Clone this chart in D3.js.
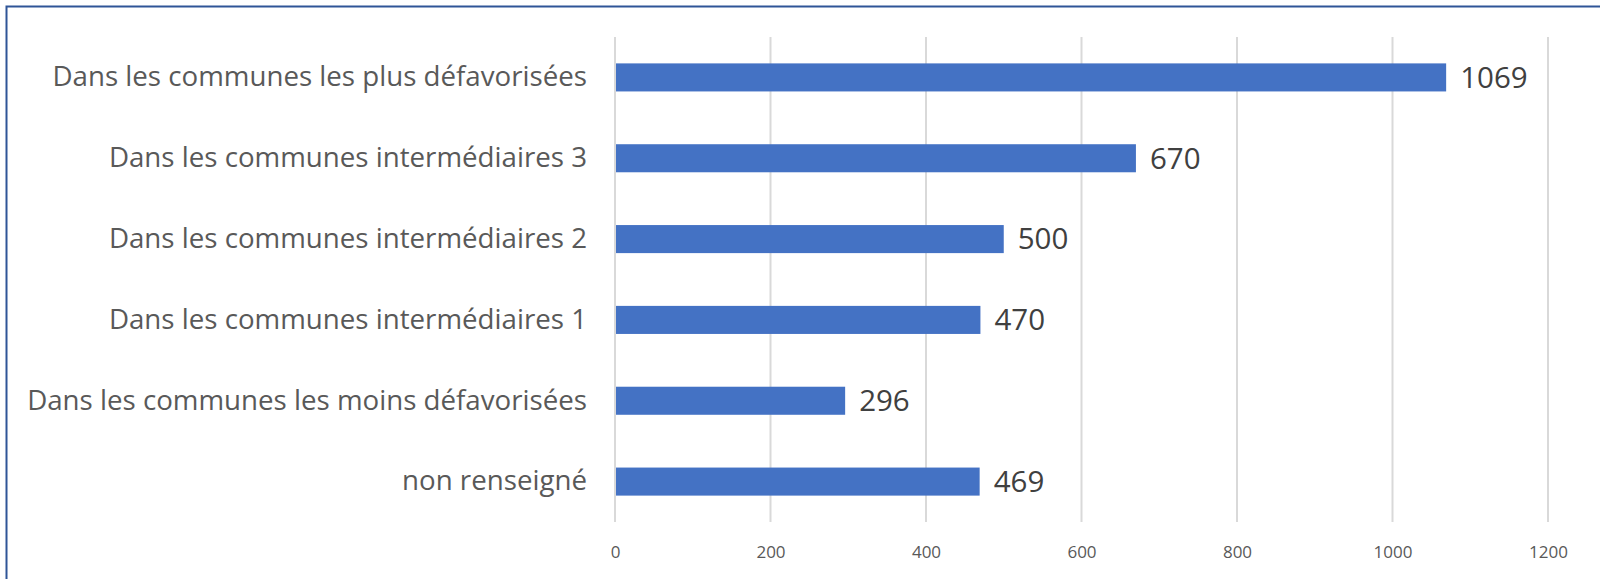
<!DOCTYPE html>
<html><head><meta charset="utf-8">
<script src="https://cdn.jsdelivr.net/npm/d3@7"></script>
<style>html,body{margin:0;padding:0;background:#fff;overflow:hidden}</style>
</head><body>
<svg id="c" width="1600" height="579"></svg>
<script>
const categories = [
  "Dans les communes les plus défavorisées",
  "Dans les communes intermédiaires 3",
  "Dans les communes intermédiaires 2",
  "Dans les communes intermédiaires 1",
  "Dans les communes les moins défavorisées",
  "non renseigné"
];
const values = [1069, 670, 500, 470, 296, 469];
const tickValues = [0, 200, 400, 600, 800, 1000, 1200];

(function () {
const svg = d3.select("#c");
const font = "'Open Sans', 'Noto Sans', sans-serif";
const mLeft = 615, mRight = 1548, mTop = 37, mBottom = 522;

svg.append("rect").attr("x", 6.5).attr("y", 6.5).attr("width", 1600).attr("height", 600)
  .attr("fill", "#fff").attr("stroke", "#2F5597").attr("stroke-width", 2);

const x = d3.scaleLinear().domain([0, 1200]).range([mLeft, mRight]);
const y = d3.scaleBand().domain(categories).range([mTop, mBottom]).paddingInner(0.653).paddingOuter(0.3265);

svg.append("g").selectAll("line").data(tickValues).join("line")
  .attr("x1", d => x(d)).attr("x2", d => x(d))
  .attr("y1", mTop).attr("y2", mBottom)
  .attr("stroke", "#d9d9d9").attr("stroke-width", 2);

const xAxis = d3.axisBottom(x).tickValues(tickValues).tickSize(0).tickPadding(0).tickFormat(d3.format("d"));
const gx = svg.append("g").attr("transform", `translate(0,${mBottom + 24})`).call(xAxis);
gx.select(".domain").remove();
gx.selectAll("text").attr("font-family", font).attr("font-size", 17).attr("fill", "#595959").attr("dy", "0.71em");

svg.append("g").selectAll("rect").data(values).join("rect")
  .attr("x", x(0) + 1).attr("y", (d, i) => y(categories[i]))
  .attr("width", d => x(d) - x(0) - 1).attr("height", y.bandwidth())
  .attr("fill", "#4472C4");

const yAxis = d3.axisLeft(y).tickSize(0).tickPadding(28);
const gy = svg.append("g").attr("transform", `translate(${mLeft},0)`).call(yAxis);
gy.select(".domain").remove();
gy.selectAll("text").attr("font-family", font).attr("font-size", 27.7).attr("fill", "#595959");

svg.append("g").selectAll("text").data(values).join("text")
  .attr("x", d => x(d) + 14).attr("y", (d, i) => y(categories[i]) + y.bandwidth() / 2)
  .attr("dy", "0.35em").attr("font-family", font).attr("font-size", 29.5).attr("fill", "#404040")
  .text(d => d);
})();
</script>
</body></html>
